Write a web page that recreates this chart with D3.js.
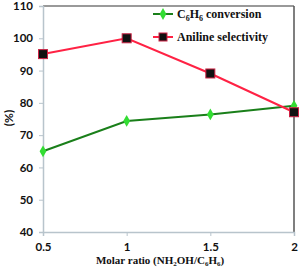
<!DOCTYPE html>
<html>
<head>
<meta charset="utf-8">
<script src="https://cdn.jsdelivr.net/npm/d3@7"></script>
<style>
  body { margin: 0; background: #fff; }
  .tick text { font-family: Lato, "Open Sans", sans-serif; font-weight: bold; font-size: 11.5px; fill: #111; }
  .serif { font-family: "Liberation Serif", "DejaVu Serif", serif; font-weight: bold; fill: #111; }
</style>
</head>
<body>
<div id="chart"></div>
<script>
var ratios = [0.5, 1, 1.5, 2];
var conversion = [65, 74.4, 76.4, 79.1];
var selectivity = [95.1, 100, 89.1, 77.1];
var yTicks = [40, 50, 60, 70, 80, 90, 100, 110];
var xTicks = [0.5, 1, 1.5, 2];

var svgWidth = 300, svgHeight = 269;
var margin = {top: 6, right: 6, bottom: 37, left: 43},
    width = svgWidth - margin.left - margin.right,
    height = svgHeight - margin.top - margin.bottom;

var svg = d3.select("#chart").append("svg")
    .attr("width", svgWidth)
    .attr("height", svgHeight);

var g = svg.append("g")
    .attr("transform", `translate(${margin.left}, ${margin.top})`);

var x = d3.scaleLinear().domain([0.5, 2]).range([0, width]);
var y = d3.scaleLinear().domain([40, 110]).range([height, 0]);

// frame: top and right
g.append("line").attr("x1", 0).attr("x2", width).attr("y1", 0).attr("y2", 0)
    .attr("stroke", "#777").attr("stroke-width", 1.5);
g.append("line").attr("x1", width).attr("x2", width).attr("y1", 0).attr("y2", height)
    .attr("stroke", "#555").attr("stroke-width", 1.5);

var yAxis = g.append("g")
    .call(d3.axisLeft(y).tickValues(yTicks).tickSize(4).tickPadding(6).tickFormat(d3.format("d")));
yAxis.selectAll("line, path").attr("stroke", "#b8c4cc");
yAxis.select(".domain").attr("stroke-width", 1.5);

var xAxis = g.append("g")
    .attr("transform", `translate(0, ${height})`)
    .call(d3.axisBottom(x).tickValues(xTicks).tickSize(4).tickPadding(7).tickFormat(d => d));
xAxis.selectAll("line, path").attr("stroke", "#b8c4cc");
xAxis.select(".domain").attr("stroke-width", 1.5);

var line = d3.line().x(d => x(d[0])).y(d => y(d[1]));

var convPts = ratios.map((r, i) => [r, conversion[i]]);
var selPts = ratios.map((r, i) => [r, selectivity[i]]);

g.append("path").datum(convPts)
    .attr("fill", "none").attr("stroke", "#1a7f1a").attr("stroke-width", 2)
    .attr("d", line);

g.append("path").datum(selPts)
    .attr("fill", "none").attr("stroke", "#ff2244").attr("stroke-width", 2)
    .attr("d", line);

var diamond = d3.symbol().type(d3.symbolDiamond).size(40);
g.selectAll(".conv").data(convPts).enter().append("path")
    .attr("class", "conv")
    .attr("transform", d => `translate(${x(d[0])}, ${y(d[1])})`)
    .attr("d", diamond)
    .attr("fill", "#33dd33");

g.selectAll(".sel").data(selPts).enter().append("rect")
    .attr("class", "sel")
    .attr("x", d => x(d[0]) - 4.5).attr("y", d => y(d[1]) - 4.5)
    .attr("width", 9).attr("height", 9)
    .attr("fill", "#111").attr("stroke", "#cc2244").attr("stroke-width", 1);

// legend
var legend = svg.append("g").attr("transform", "translate(153, 14)");
legend.append("line").attr("x1", 0).attr("x2", 20).attr("y1", 0).attr("y2", 0)
    .attr("stroke", "#1a7f1a").attr("stroke-width", 2);
legend.append("path").attr("transform", "translate(10, 0)").attr("d", diamond).attr("fill", "#33dd33");
var t1 = legend.append("text").attr("class", "serif").attr("x", 24).attr("y", 4).attr("font-size", 12);
t1.append("tspan").text("C");
t1.append("tspan").attr("font-size", 8).attr("dy", 3).text("6");
t1.append("tspan").attr("dy", -3).text("H");
t1.append("tspan").attr("font-size", 8).attr("dy", 3).text("6");
t1.append("tspan").attr("dy", -3).text(" conversion");

legend.append("line").attr("x1", 0).attr("x2", 20).attr("y1", 23).attr("y2", 23)
    .attr("stroke", "#ff2244").attr("stroke-width", 2);
legend.append("rect").attr("x", 6).attr("y", 19).attr("width", 8).attr("height", 8)
    .attr("fill", "#111").attr("stroke", "#cc2244");
legend.append("text").attr("class", "serif").attr("x", 24).attr("y", 27).attr("font-size", 12)
    .text("Aniline selectivity");

// axis titles
var xt = svg.append("text").attr("class", "serif").attr("x", 160).attr("y", 264)
    .attr("text-anchor", "middle").attr("font-size", 11);
xt.append("tspan").text("Molar ratio (NH");
xt.append("tspan").attr("font-size", 7).attr("dy", 2).text("2");
xt.append("tspan").attr("dy", -2).text("OH/C");
xt.append("tspan").attr("font-size", 7).attr("dy", 2).text("6");
xt.append("tspan").attr("dy", -2).text("H");
xt.append("tspan").attr("font-size", 7).attr("dy", 2).text("6");
xt.append("tspan").attr("dy", -2).text(")");

svg.append("text")
    .attr("transform", "translate(13, 118) rotate(-90)")
    .attr("text-anchor", "middle")
    .attr("font-family", "Lato, sans-serif").attr("font-weight", "bold").attr("font-size", 12)
    .attr("fill", "#111")
    .text("(%)");
</script>
</body>
</html>
